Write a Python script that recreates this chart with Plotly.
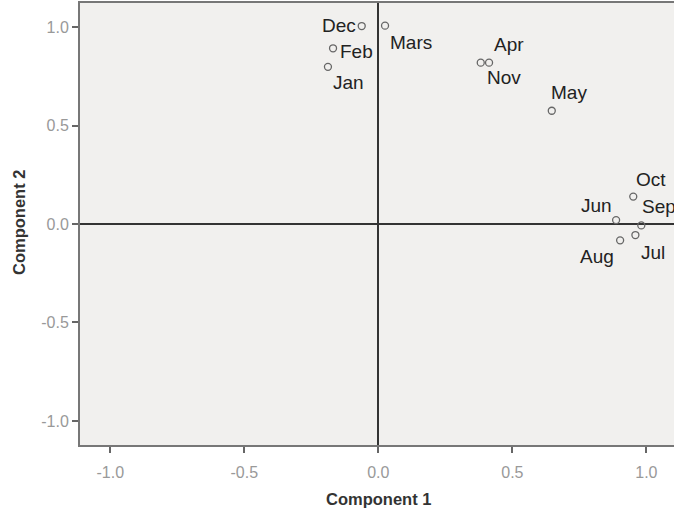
import plotly.graph_objects as go

months = ["Dec", "Feb", "Jan", "Mars", "Apr", "Nov", "May", "Oct", "Sep", "Jun", "Jul", "Aug"]
comp1 = [-0.062, -0.169, -0.188, 0.025, 0.413, 0.382, 0.647, 0.951, 0.981, 0.887, 0.959, 0.902]
comp2 = [1.005, 0.892, 0.798, 1.007, 0.819, 0.819, 0.575, 0.139, -0.007, 0.020, -0.056, -0.083]
tick_vals = [-1.0, -0.5, 0.0, 0.5, 1.0]
tick_text = ["-1.0", "-0.5", "0.0", "0.5", "1.0"]

# label placement style: (xanchor, xshift px, yshift px)
label_style = {
    "Dec": ("right", -4, 1),
    "Feb": ("left", 5, -3),
    "Jan": ("center", 21, -16),
    "Mars": ("left", 3, -17),
    "Apr": ("left", 3, 18),
    "Nov": ("center", 23, -15),
    "May": ("center", 17, 18),
    "Oct": ("center", 18, 17),
    "Sep": ("left", -1, 19),
    "Jun": ("center", -20, 15),
    "Jul": ("center", 18, -17),
    "Aug": ("center", -23, -16),
}

FONT = "Liberation Sans, Arial, sans-serif"
W, H = 674, 510
ml, mr, mt, mb = 80, 0, 3, 65
pw, ph = W - ml - mr, H - mt - mb

fig = go.Figure()
fig.add_trace(go.Scatter(
    x=comp1, y=comp2, mode="markers",
    marker=dict(symbol="circle-open", size=7, color="#666666", line=dict(width=1.3, color="#666666")),
    hoverinfo="text", text=months, showlegend=False,
))

annotations = []
for m, x, y in zip(months, comp1, comp2):
    xa, xs, ys = label_style[m]
    annotations.append(dict(
        x=x, y=y, xref="x", yref="y", text=m, showarrow=False,
        xanchor=xa, yanchor="middle", xshift=xs, yshift=ys,
        font=dict(family=FONT, size=19, color="#222222"),
    ))

annotations.append(dict(
    x=(378.3 - ml) / pw, y=(H - mb - 499) / ph, xref="paper", yref="paper",
    text="<b>Component 1</b>", showarrow=False, yanchor="middle",
    font=dict(family=FONT, size=16.5, color="#333333"),
))
annotations.append(dict(
    x=(19 - ml) / pw, y=(H - mb - 223) / ph, xref="paper", yref="paper",
    text="<b>Component 2</b>", showarrow=False, textangle=-90, xanchor="center",
    font=dict(family=FONT, size=16.5, color="#333333"),
))

fig.update_layout(
    width=W, height=H,
    margin=dict(l=ml, r=mr, t=mt, b=mb, autoexpand=False),
    paper_bgcolor="white",
    plot_bgcolor="#f1f0ee",
    annotations=annotations,
    xaxis=dict(
        range=[-1.113, 1.103], tickvals=tick_vals, ticktext=tick_text,
        showgrid=False, zeroline=True, zerolinecolor="#333333", zerolinewidth=1.5,
        showline=True, linecolor="#777777", linewidth=2, mirror=True,
        ticks="outside", ticklen=6, tickcolor="#666666", tickwidth=1.5,
        ticklabelstandoff=6,
        tickfont=dict(family=FONT, size=16, color="#999999"),
    ),
    yaxis=dict(
        range=[-1.122, 1.122], tickvals=tick_vals, ticktext=tick_text,
        showgrid=False, zeroline=True, zerolinecolor="#333333", zerolinewidth=1.5,
        showline=True, linecolor="#777777", linewidth=2,
        ticks="outside", ticklen=6, tickcolor="#666666", tickwidth=1.5,
        tickfont=dict(family=FONT, size=16, color="#999999"),
    ),
)

fig.write_html(
    "out.html",
    config={"displayModeBar": False},
    post_script="document.body.style.margin='0';document.body.style.overflow='hidden';",
)
